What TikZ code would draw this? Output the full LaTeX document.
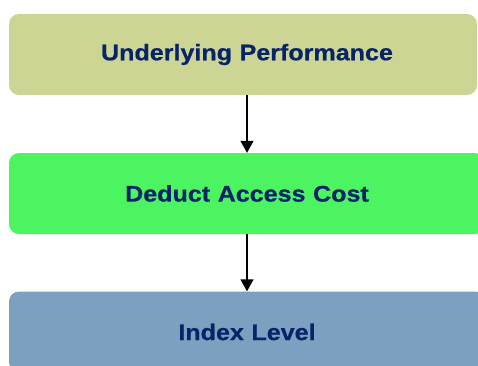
\documentclass[tikz,border=0pt]{standalone}
\usepackage{fontspec}
\setmainfont{Liberation Sans}
\newfontfamily\boxfont[FakeStretch=1.11,BoldFeatures={FakeBold=0.6}]{Liberation Sans}
\usetikzlibrary{arrows.meta}
\definecolor{boxone}{RGB}{205,213,149}
\definecolor{boxtwo}{RGB}{77,244,98}
\definecolor{boxthree}{RGB}{125,160,192}
\definecolor{navytext}{RGB}{8,36,104}
\tikzset{
  stepbox/.style={rounded corners=10pt, minimum height=81pt, inner sep=0pt,
    text=navytext, font=\boxfont\bfseries\fontsize{22.6pt}{26pt}\selectfont, align=center},
  flowarrow/.style={line width=1.5pt, -{Triangle[length=12pt,width=13pt]}}
}
\begin{document}
\begin{tikzpicture}[x=1pt,y=1pt]
\useasboundingbox (0,0) rectangle (478,-365);
\clip (0,0) rectangle (478,-365);
\node[stepbox, fill=boxone, minimum width=468pt, text width=468pt] (perf) at (243,-54.5) {\hspace*{8pt}Underlying Performance};
\node[stepbox, fill=boxtwo, minimum width=476pt, text width=476pt] (cost) at (247,-193.5) {Deduct Access Cost};
\node[stepbox, fill=boxthree, minimum width=476pt, text width=476pt] (index) at (247,-332) {Index Level};
\draw[flowarrow] (perf.south -| 247,0) -- (cost.north -| 247,0);
\draw[flowarrow] (cost.south -| 247,0) -- (index.north -| 247,0);
\end{tikzpicture}
\end{document}
